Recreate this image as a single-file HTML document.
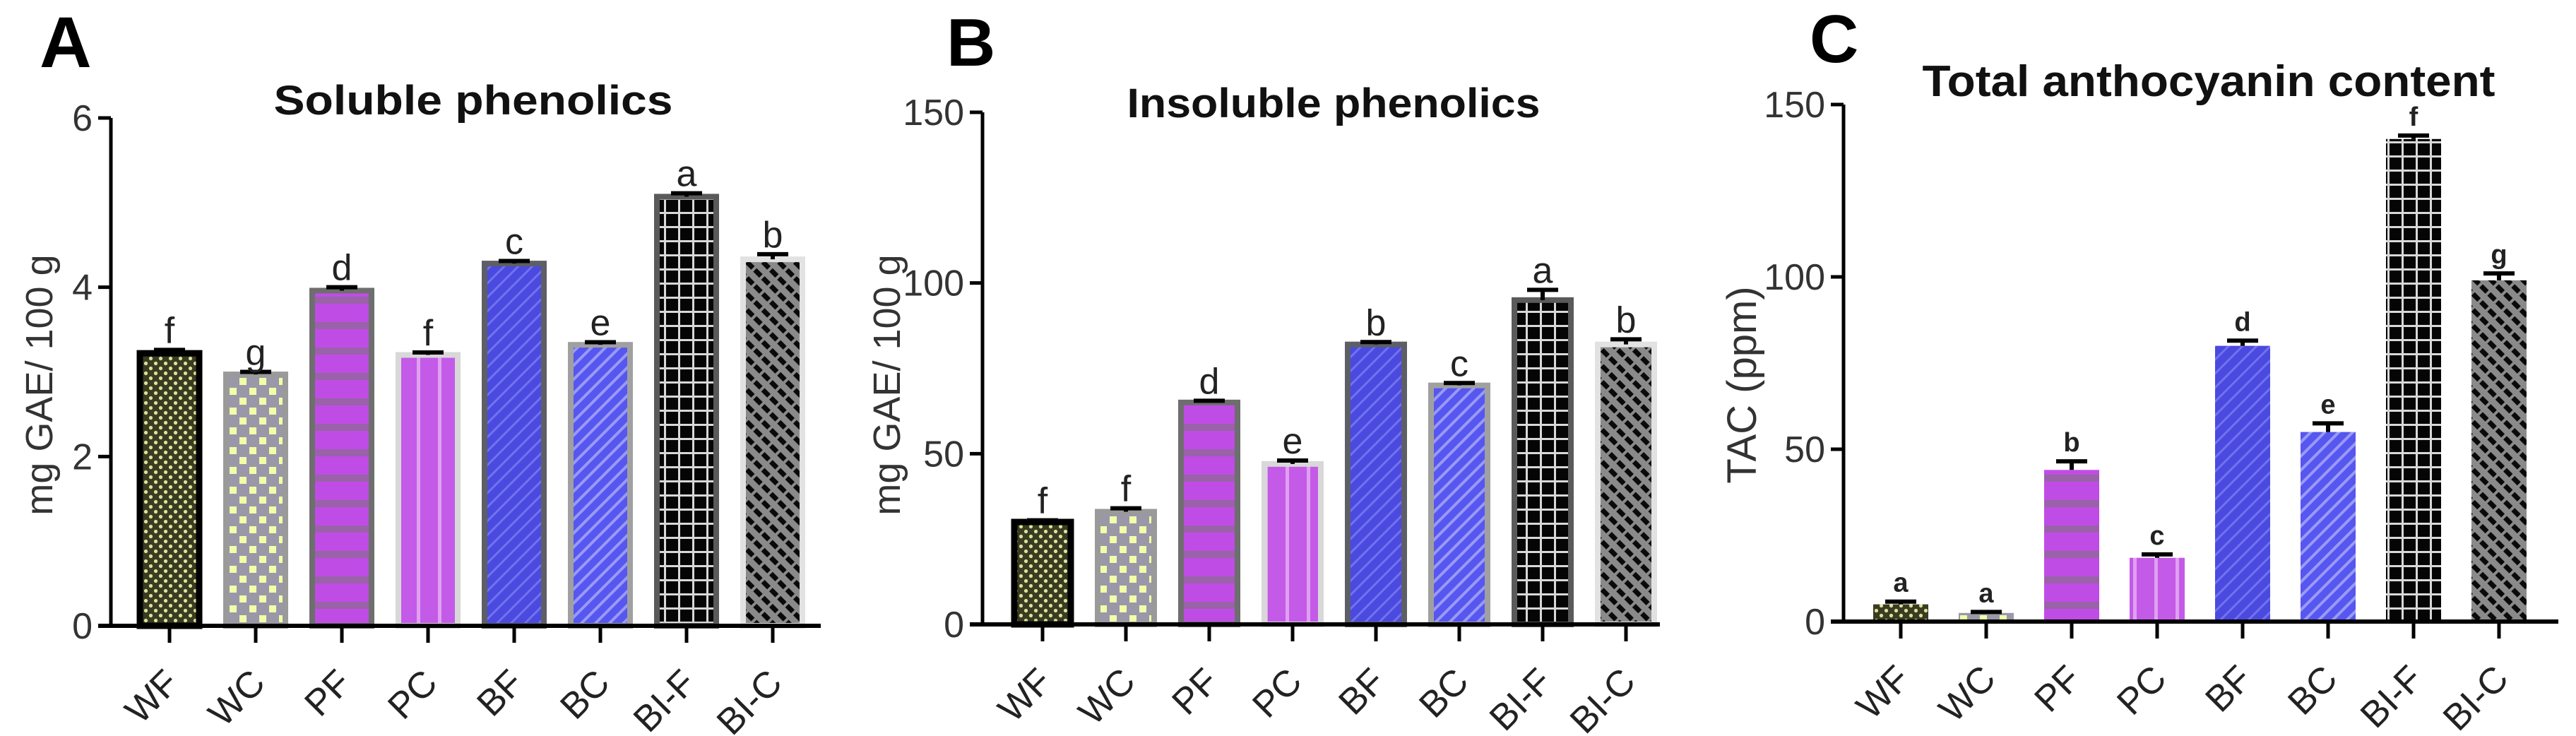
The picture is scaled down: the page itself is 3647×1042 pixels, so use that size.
<!DOCTYPE html>
<html><head><meta charset="utf-8"><style>
html,body{margin:0;padding:0;background:#fff;}
svg{display:block;font-family:"Liberation Sans",Arial,sans-serif;}
</style></head><body>
<svg id="fig" width="3647" height="1042" viewBox="0 0 3647 1042" xmlns="http://www.w3.org/2000/svg">
<defs>
<pattern id="pWF" width="14" height="14" patternUnits="userSpaceOnUse"><rect width="14" height="14" fill="#3b3b22"/><circle cx="3.5" cy="3.5" r="2.6" fill="#d8e49a"/><circle cx="10.5" cy="10.5" r="2.6" fill="#d8e49a"/></pattern>
<pattern id="pWC" width="28" height="28" patternUnits="userSpaceOnUse"><rect width="28" height="28" fill="#9a98a8"/><rect x="3" y="3" width="10" height="10" fill="#f2ffa8"/><rect x="17" y="17" width="10" height="10" fill="#f2ffa8"/></pattern>
<pattern id="pPF" width="20" height="36" patternUnits="userSpaceOnUse"><rect width="20" height="36" fill="#c04ce6"/><rect y="24" width="20" height="10" fill="#9a62a8"/></pattern>
<pattern id="pPC" width="30" height="20" patternUnits="userSpaceOnUse"><rect width="30" height="20" fill="#c45ae8"/><rect x="20" width="5" height="20" fill="#e0a0f0"/></pattern>
<pattern id="pBF" width="14" height="14" patternUnits="userSpaceOnUse" patternTransform="rotate(45)"><rect width="14" height="14" fill="#4a4ae0"/><rect width="3" height="14" fill="#7272ee"/></pattern>
<pattern id="pBC" width="14" height="14" patternUnits="userSpaceOnUse" patternTransform="rotate(45)"><rect width="14" height="14" fill="#5656f0"/><rect width="4" height="14" fill="#9a9af4"/></pattern>
<pattern id="pBIF" width="20" height="20" patternUnits="userSpaceOnUse"><rect width="20" height="20" fill="#050505"/><rect width="3" height="20" fill="#d8d8d8"/><rect width="20" height="3" fill="#d8d8d8"/></pattern>
<pattern id="pBIC" width="16" height="16" patternUnits="userSpaceOnUse" patternTransform="rotate(-45)"><rect width="16" height="16" fill="#8a8a8a"/><rect x="2" y="2" width="7" height="12" fill="#0a0a0a"/></pattern>
</defs>
</svg>
<script>
const categories = ["WF","WC","PF","PC","BF","BC","BI-F","BI-C"];
const solubleValues = [3.22,2.97,3.96,3.2,4.28,3.32,5.07,4.33];
const solubleErrors = [0.04,0.03,0.04,0.03,0.03,0.03,0.04,0.06];
const solubleLetters = ["f","g","d","f","c","e","a","b"];
const solubleTicks = [0,2,4,6];
const insolubleValues = [30,33,65,47,82,70,95,82];
const insolubleErrors = [0.5,1,0.5,1,0.7,0.7,3,1.5];
const insolubleLetters = ["f","f","d","e","b","c","a","b"];
const insolubleTicks = [0,50,100,150];
const tacValues = [5,2.5,44,18.5,80,55,140,99];
const tacErrors = [0.8,0.3,2.5,1,1.5,2.5,1,2];
const tacLetters = ["a","a","b","c","d","e","f","g"];
const tacTicks = [0,50,100,150];

const fills = ["pWF","pWC","pPF","pPC","pBF","pBC","pBIF","pBIC"];
const strokes = ["#000","#9a9a9a","#6e6e6e","#d8d8d8","#5e5e66","#a0a0a0","#5a5a5a","#e2e2e2"];
const NS = "http://www.w3.org/2000/svg";
const svg = document.getElementById("fig");
function mk(tag, attrs, parent){const e=document.createElementNS(NS,tag);for(const k in attrs)e.setAttribute(k,attrs[k]);(parent||svg).appendChild(e);return e;}

function panel(cfg){
  const g = mk("g",{});
  
  
  const yMax = cfg.ticks[cfg.ticks.length-1];
  const y = v => cfg.y0 - (v / yMax) * (cfg.y0 - cfg.yTop);
  const x = i => cfg.x0 + i * cfg.step;
  const L = mk("text",{x:cfg.letterX,y:cfg.letterY,"font-size":cfg.letterSize,"font-weight":"bold",fill:"#000"},g);
  L.textContent = cfg.letter;
  
  
  const T = mk("text",{x:cfg.titleX,y:cfg.titleY,"font-size":cfg.titleSize,"font-weight":"bold","text-anchor":"middle",fill:"#111",textLength:cfg.titleLen,lengthAdjust:"spacingAndGlyphs"},g);
  T.textContent = cfg.title;
  
  
  const YT = mk("text",{x:0,y:0,"font-size":cfg.yLabelSize,"text-anchor":"middle",fill:"#333",transform:`translate(${cfg.yLabelX},${cfg.yLabelY}) rotate(-90)`},g);
  YT.textContent = cfg.yLabel;
  
  
  cfg.values.forEach((v,i)=>{
    const cx = x(i), w = cfg.barW;
    const r = mk("rect",{x:cx-w/2,y:y(v),width:w,height:cfg.y0-y(v),fill:`url(#${fills[i]})`},g);
    if(cfg.border){r.setAttribute("stroke",strokes[i]);r.setAttribute("stroke-width",i===0?9:8);}
    
    
    const top = y(v + cfg.errors[i]);
    const eb = mk("path",{d:`M${cx},${y(v)} V${top} M${cx-22},${top} H${cx+22}`,stroke:"#000","stroke-width":6,fill:"none"},g);
    
    
    const lt = mk("text",{x:cx,y:top-cfg.letterGap,"font-size":cfg.sigSize,"font-weight":cfg.sigBold?"bold":"normal","text-anchor":"middle",fill:"#222"},g);
    lt.textContent = cfg.letters[i];
    
    
    const tk = mk("line",{x1:cx,y1:cfg.y0,x2:cx,y2:cfg.y0+24,stroke:"#000","stroke-width":5},g);
    
    
    const xl = mk("text",{x:0,y:0,"font-size":52,"text-anchor":"end",fill:"#222",transform:`translate(${cx+16},${cfg.y0+84}) rotate(-45)`},g);
    xl.textContent = categories[i];
    
    
  });
  const ya = mk("line",{x1:cfg.axisX,y1:cfg.yTop,x2:cfg.axisX,y2:cfg.y0+2,stroke:"#000","stroke-width":5},g);
  
  
  const xa = mk("line",{x1:cfg.axisX-18,y1:cfg.y0,x2:cfg.xEnd,y2:cfg.y0,stroke:"#000","stroke-width":6},g);
  
  
  cfg.ticks.forEach(t=>{
    const tl = mk("line",{x1:cfg.axisX-18,y1:y(t),x2:cfg.axisX,y2:y(t),stroke:"#000","stroke-width":5},g);
    
    
    const tt = mk("text",{x:cfg.axisX-26,y:y(t)+18,"font-size":52,"text-anchor":"end",fill:"#333"},g);
    tt.textContent = String(t);
    
    
  });
}

panel({name:"panel-a-soluble-phenolics",letter:"A",letterX:56,letterY:95,letterSize:102,
  title:"Soluble phenolics",titleX:670,titleY:162,titleSize:58,titleLen:565,
  yLabel:"mg GAE/ 100 g",yLabelSize:54,yLabelX:74,yLabelY:545,
  axisX:157,yTop:167,y0:886,x0:240,step:122,barW:84,xEnd:1162,border:true,
  values:solubleValues,errors:solubleErrors,letters:solubleLetters,ticks:solubleTicks,
  sigSize:52,sigBold:false,letterGap:10});
panel({name:"panel-b-insoluble-phenolics",letter:"B",letterX:1340,letterY:93,letterSize:96,
  title:"Insoluble phenolics",titleX:1888,titleY:166,titleSize:58,titleLen:585,
  yLabel:"mg GAE/ 100 g",yLabelSize:54,yLabelX:1274,yLabelY:545,
  axisX:1391,yTop:159,y0:884,x0:1476,step:118,barW:80,xEnd:2350,border:true,
  values:insolubleValues,errors:insolubleErrors,letters:insolubleLetters,ticks:insolubleTicks,
  sigSize:52,sigBold:false,letterGap:10});
panel({name:"panel-c-total-anthocyanin",letter:"C",letterX:2562,letterY:88,letterSize:96,
  title:"Total anthocyanin content",titleX:3127,titleY:136,titleSize:62,titleLen:811,
  yLabel:"TAC (ppm)",yLabelSize:58,yLabelX:2486,yLabelY:545,
  axisX:2610,yTop:148,y0:880,x0:2691,step:121,barW:78,xEnd:3622,border:false,
  values:tacValues,errors:tacErrors,letters:tacLetters,ticks:tacTicks,
  sigSize:38,sigBold:true,letterGap:14});
</script>
</body></html>
